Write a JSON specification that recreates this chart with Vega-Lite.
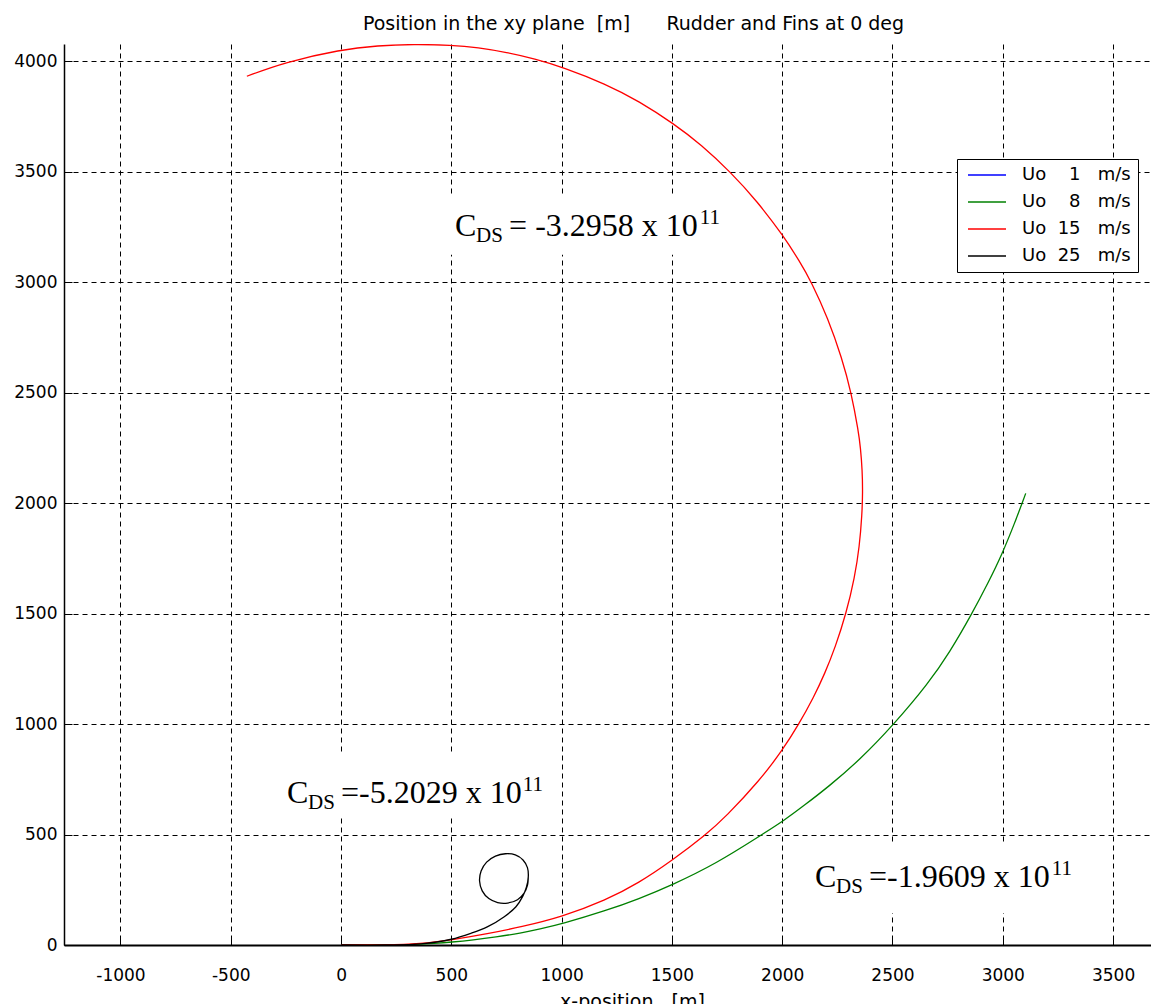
{
  "$schema": "https://vega.github.io/schema/vega-lite/v6.json",
  "width": 1087,
  "height": 901,
  "autosize": {"type": "none"},
  "padding": {"left": 64, "top": 44, "right": 0, "bottom": 59},
  "background": "white",
  "title": {
    "text": "Position in the xy plane\u00a0\u00a0[m]\u00a0\u00a0\u00a0\u00a0\u00a0\u00a0Rudder and Fins at 0 deg",
    "font": "DejaVu Sans", "fontSize": 19, "fontWeight": "normal", "color": "#000",
    "anchor": "middle", "dx": 26, "offset": -5, "baseline": "alphabetic"
  },
  "config": {
    "view": {"stroke": null},
    "axis": {
      "labelFont": "DejaVu Sans", "labelFontSize": 17, "labelColor": "#000",
      "titleFont": "DejaVu Sans", "titleFontSize": 19, "titleFontWeight": "normal", "titleColor": "#000",
      "grid": true, "gridColor": "#000", "gridOpacity": 1, "gridDash": [5, 4], "gridWidth": 1,
      "domainColor": "#000", "tickColor": "#000", "tickSize": -8, "tickWidth": 1
    }
  },
  "datasets": {
    "curves": [
      {"s": "1", "i": 0, "x": 0, "y": 0}, {"s": "1", "i": 1, "x": 125, "y": 0},
      {"s": "8", "i": 0, "x": 0, "y": 0}, {"s": "8", "i": 1, "x": 200, "y": 0}, {"s": "8", "i": 2, "x": 350, "y": 3},
      {"s": "8", "i": 3, "x": 420, "y": 7}, {"s": "8", "i": 4, "x": 500, "y": 13}, {"s": "8", "i": 5, "x": 600, "y": 23},
      {"s": "8", "i": 6, "x": 700, "y": 36}, {"s": "8", "i": 7, "x": 816, "y": 54}, {"s": "8", "i": 8, "x": 900, "y": 72},
      {"s": "8", "i": 9, "x": 1000, "y": 95}, {"s": "8", "i": 10, "x": 1200, "y": 155}, {"s": "8", "i": 11, "x": 1350, "y": 209},
      {"s": "8", "i": 12, "x": 1500, "y": 271}, {"s": "8", "i": 13, "x": 1700, "y": 368}, {"s": "8", "i": 14, "x": 1904, "y": 497},
      {"s": "8", "i": 15, "x": 2008, "y": 563}, {"s": "8", "i": 16, "x": 2100, "y": 632}, {"s": "8", "i": 17, "x": 2208, "y": 715},
      {"s": "8", "i": 18, "x": 2350, "y": 836}, {"s": "8", "i": 19, "x": 2506, "y": 998}, {"s": "8", "i": 20, "x": 2662, "y": 1183},
      {"s": "8", "i": 21, "x": 2760, "y": 1326}, {"s": "8", "i": 22, "x": 2858, "y": 1495}, {"s": "8", "i": 23, "x": 2940, "y": 1652},
      {"s": "8", "i": 24, "x": 2994, "y": 1763}, {"s": "8", "i": 25, "x": 3054, "y": 1909}, {"s": "8", "i": 26, "x": 3104, "y": 2044},
      {"s": "15", "i": 0, "x": 0, "y": 0}, {"s": "15", "i": 1, "x": 200, "y": 0}, {"s": "15", "i": 2, "x": 362, "y": 5},
      {"s": "15", "i": 3, "x": 500, "y": 23}, {"s": "15", "i": 4, "x": 665, "y": 51}, {"s": "15", "i": 5, "x": 816, "y": 82},
      {"s": "15", "i": 6, "x": 1000, "y": 127}, {"s": "15", "i": 7, "x": 1200, "y": 203}, {"s": "15", "i": 8, "x": 1350, "y": 281},
      {"s": "15", "i": 9, "x": 1500, "y": 382}, {"s": "15", "i": 10, "x": 1655, "y": 500}, {"s": "15", "i": 11, "x": 1743, "y": 579},
      {"s": "15", "i": 12, "x": 1898, "y": 745}, {"s": "15", "i": 13, "x": 2001, "y": 881}, {"s": "15", "i": 14, "x": 2076, "y": 1000},
      {"s": "15", "i": 15, "x": 2143, "y": 1122}, {"s": "15", "i": 16, "x": 2193, "y": 1228}, {"s": "15", "i": 17, "x": 2241, "y": 1349},
      {"s": "15", "i": 18, "x": 2290, "y": 1500}, {"s": "15", "i": 19, "x": 2329, "y": 1666}, {"s": "15", "i": 20, "x": 2350, "y": 1802},
      {"s": "15", "i": 21, "x": 2362, "y": 1949}, {"s": "15", "i": 22, "x": 2365, "y": 2050}, {"s": "15", "i": 23, "x": 2363, "y": 2150},
      {"s": "15", "i": 24, "x": 2355, "y": 2250}, {"s": "15", "i": 25, "x": 2346, "y": 2323}, {"s": "15", "i": 26, "x": 2313, "y": 2500},
      {"s": "15", "i": 27, "x": 2271, "y": 2656}, {"s": "15", "i": 28, "x": 2207, "y": 2837}, {"s": "15", "i": 29, "x": 2133, "y": 3000},
      {"s": "15", "i": 30, "x": 2079, "y": 3094}, {"s": "15", "i": 31, "x": 2007, "y": 3207}, {"s": "15", "i": 32, "x": 1887, "y": 3366},
      {"s": "15", "i": 33, "x": 1764, "y": 3500}, {"s": "15", "i": 34, "x": 1633, "y": 3622}, {"s": "15", "i": 35, "x": 1510, "y": 3716},
      {"s": "15", "i": 36, "x": 1351, "y": 3819}, {"s": "15", "i": 37, "x": 1200, "y": 3897}, {"s": "15", "i": 38, "x": 1005, "y": 3973},
      {"s": "15", "i": 39, "x": 879, "y": 4011}, {"s": "15", "i": 40, "x": 750, "y": 4040}, {"s": "15", "i": 41, "x": 621, "y": 4062},
      {"s": "15", "i": 42, "x": 500, "y": 4073}, {"s": "15", "i": 43, "x": 330, "y": 4077}, {"s": "15", "i": 44, "x": 167, "y": 4071},
      {"s": "15", "i": 45, "x": 0, "y": 4053}, {"s": "15", "i": 46, "x": -258, "y": 3995}, {"s": "15", "i": 47, "x": -427, "y": 3932},
      {"s": "25", "i": 0, "x": 0, "y": 0}, {"s": "25", "i": 1, "x": 200, "y": 0}, {"s": "25", "i": 2, "x": 362, "y": 5},
      {"s": "25", "i": 3, "x": 500, "y": 26}, {"s": "25", "i": 4, "x": 589, "y": 53}, {"s": "25", "i": 5, "x": 665, "y": 83},
      {"s": "25", "i": 6, "x": 740, "y": 128}, {"s": "25", "i": 7, "x": 793, "y": 173}, {"s": "25", "i": 8, "x": 823, "y": 219},
      {"s": "25", "i": 9, "x": 840, "y": 260}, {"s": "25", "i": 10, "x": 849, "y": 310}, {"s": "25", "i": 11, "x": 845, "y": 350},
      {"s": "25", "i": 12, "x": 825, "y": 385}, {"s": "25", "i": 13, "x": 790, "y": 408}, {"s": "25", "i": 14, "x": 745, "y": 413},
      {"s": "25", "i": 15, "x": 700, "y": 402}, {"s": "25", "i": 16, "x": 660, "y": 375}, {"s": "25", "i": 17, "x": 635, "y": 335},
      {"s": "25", "i": 18, "x": 628, "y": 290}, {"s": "25", "i": 19, "x": 640, "y": 245}, {"s": "25", "i": 20, "x": 670, "y": 210},
      {"s": "25", "i": 21, "x": 710, "y": 192}, {"s": "25", "i": 22, "x": 755, "y": 190}, {"s": "25", "i": 23, "x": 800, "y": 205},
      {"s": "25", "i": 24, "x": 830, "y": 235}, {"s": "25", "i": 25, "x": 845, "y": 270}, {"s": "25", "i": 26, "x": 849, "y": 315}
    ],
    "notes": [
      {"x": 517, "y": 3210, "rest": "\u00a0=\u00a0-3.2958\u00a0x\u00a010"},
      {"x": -245, "y": 643, "rest": "\u00a0=-5.2029\u00a0x\u00a010"},
      {"x": 2149, "y": 263, "rest": "\u00a0=-1.9609\u00a0x\u00a010"}
    ],
    "sups": [
      {"x": 1718, "y": 3210},
      {"x": 916, "y": 643},
      {"x": 3314, "y": 263}
    ],
    "boxes": [
      {"x": 449, "x2": 1780, "y": 3124, "y2": 3391},
      {"x": -300, "x2": 1000, "y": 575, "y2": 860},
      {"x": 2081, "x2": 3395, "y": 145, "y2": 453}
    ]
  },
  "encoding": {
    "x": {
      "field": "x", "type": "quantitative",
      "scale": {"domain": [-1256, 3672], "nice": false, "zero": false},
      "axis": {
        "values": [-1000, -500, 0, 500, 1000, 1500, 2000, 2500, 3000, 3500],
        "labelExpr": "'' + datum.value", "labelBaseline": "middle", "labelPadding": 38,
        "domainWidth": 2, "title": "x-position\u00a0\u00a0\u00a0[m]",
        "titleX": 568, "titleY": 62, "titleBaseline": "alphabetic", "titleAlign": "center", "titleAnchor": "start"
      }
    },
    "y": {
      "field": "y", "type": "quantitative",
      "scale": {"domain": [0, 4078], "nice": false, "zero": false},
      "axis": {
        "values": [0, 500, 1000, 1500, 2000, 2500, 3000, 3500, 4000],
        "labelExpr": "'' + datum.value", "labelPadding": 15, "domainWidth": 1.5, "title": null
      }
    }
  },
  "layer": [
    {
      "data": {"name": "boxes"},
      "mark": {"type": "rect", "fill": "white", "stroke": null},
      "encoding": {"x2": {"field": "x2"}, "y2": {"field": "y2"}}
    },
    {
      "data": {"name": "curves"},
      "transform": [{"filter": "datum.s == '1'"}],
      "mark": {"type": "line", "strokeWidth": 1.3, "clip": true},
      "encoding": {
        "order": {"field": "i", "type": "quantitative"},
        "color": {
          "field": "s", "type": "nominal",
          "scale": {"domain": ["1", "8", "15", "25"], "range": ["#0000ff", "#008000", "#ff0000", "#000000"]},
          "legend": {
            "orient": "none", "legendX": 893, "legendY": 115, "title": null,
            "symbolType": "M-3.8,0H3.8", "symbolSize": 100, "symbolStrokeWidth": 1.5, "symbolOffset": 14,
            "labelFont": "DejaVu Sans", "labelFontSize": 18, "labelColor": "#000", "labelOffset": 26,
            "labelLimit": 300, "rowPadding": 9, "padding": 7,
            "strokeColor": "#000", "fillColor": "#fff",
            "labelExpr": "'Uo\u00a0\u00a0' + (length(datum.label) < 2 ? '\u2007' : '') + datum.label + '\u00a0\u00a0\u00a0m/s\u00a0\u00a0'"
          }
        }
      }
    },
    {
      "data": {"name": "curves"},
      "transform": [{"filter": "datum.s == '8'"}],
      "mark": {"type": "line", "strokeWidth": 1.3, "clip": true, "interpolate": "basis"},
      "encoding": {"order": {"field": "i", "type": "quantitative"}, "color": {"field": "s", "type": "nominal"}}
    },
    {
      "data": {"name": "curves"},
      "transform": [{"filter": "datum.s == '15'"}],
      "mark": {"type": "line", "strokeWidth": 1.3, "clip": true, "interpolate": "basis"},
      "encoding": {"order": {"field": "i", "type": "quantitative"}, "color": {"field": "s", "type": "nominal"}}
    },
    {
      "data": {"name": "curves"},
      "transform": [{"filter": "datum.s == '25'"}],
      "mark": {"type": "line", "strokeWidth": 1.3, "clip": true, "interpolate": "catmull-rom"},
      "encoding": {"order": {"field": "i", "type": "quantitative"}, "color": {"field": "s", "type": "nominal"}}
    },
    {
      "data": {"name": "notes"},
      "mark": {"type": "text", "font": "Liberation Serif", "fontSize": 32, "align": "left", "baseline": "alphabetic", "color": "#000"},
      "encoding": {"text": {"value": "C"}}
    },
    {
      "data": {"name": "notes"},
      "mark": {"type": "text", "font": "Liberation Serif", "fontSize": 21, "align": "left", "baseline": "alphabetic", "color": "#000", "dx": 21, "dy": 6},
      "encoding": {"text": {"value": "DS"}}
    },
    {
      "data": {"name": "notes"},
      "mark": {"type": "text", "font": "Liberation Serif", "fontSize": 32, "align": "left", "baseline": "alphabetic", "color": "#000", "dx": 54},
      "encoding": {"text": {"field": "rest"}}
    },
    {
      "data": {"name": "sups"},
      "mark": {"type": "text", "font": "Liberation Serif", "fontSize": 21, "align": "right", "baseline": "alphabetic", "color": "#000", "dy": -12},
      "encoding": {"text": {"value": "11"}}
    }
  ]
}
